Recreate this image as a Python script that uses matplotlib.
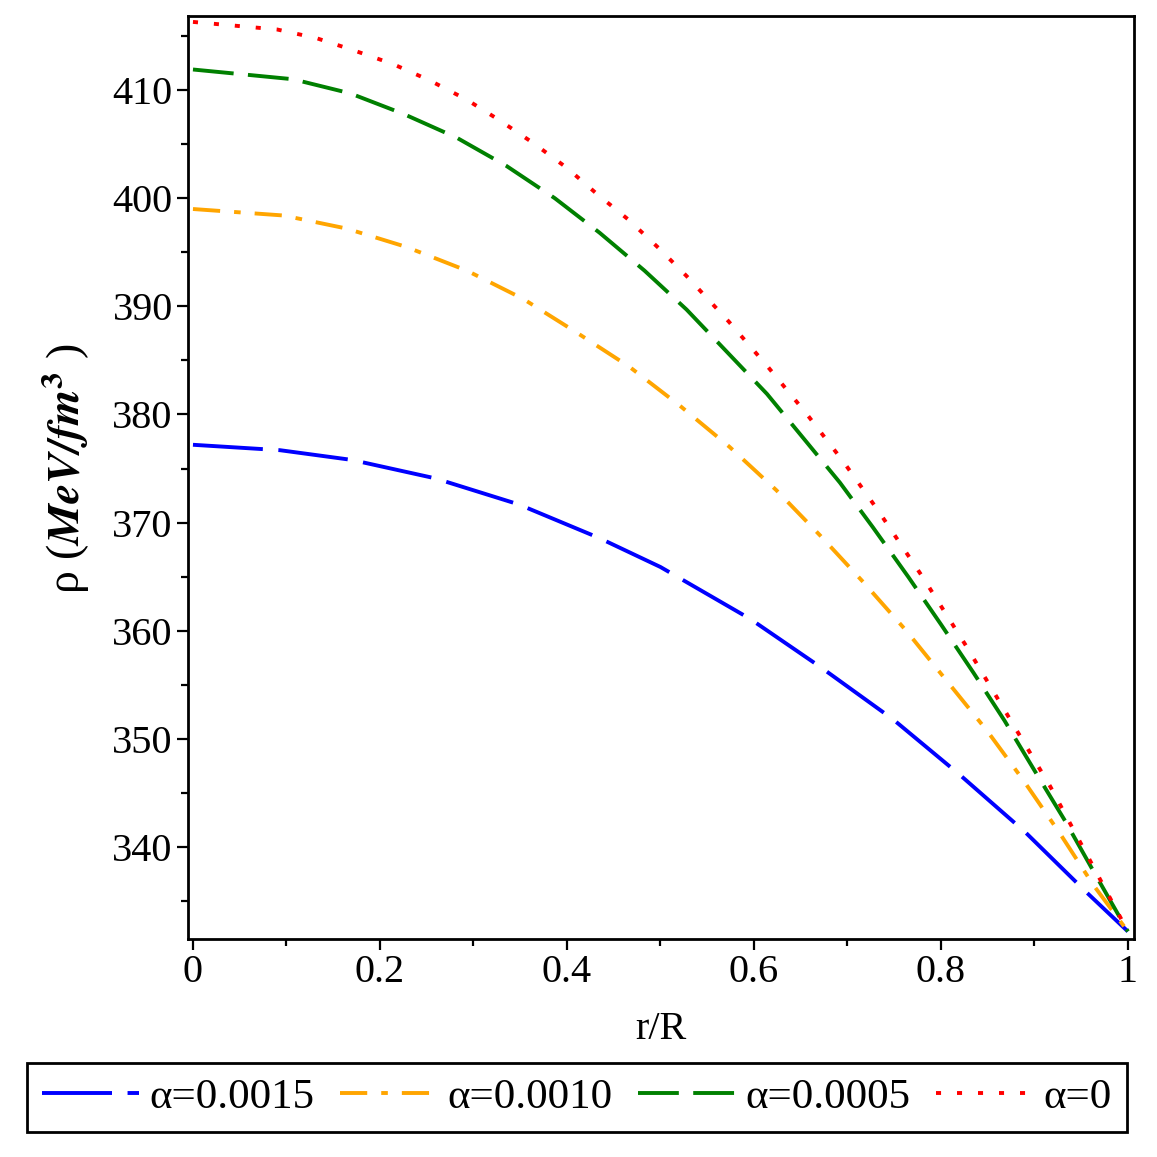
import matplotlib
import matplotlib.pyplot as plt
import numpy as np

matplotlib.use('Agg')

plt.rcParams['font.family'] = ['Liberation Serif', 'DejaVu Serif']
plt.rcParams['mathtext.fontset'] = 'stix'

# values (r/R, rho)
rBlue = [0.0, 0.093, 0.170, 0.259, 0.348, 0.434, 0.50, 0.596, 0.672, 0.749, 0.820, 0.890, 0.956, 1.0]
rhoBlue = [377.2, 376.7, 375.8, 374.1, 371.7, 368.6, 365.9, 361.1, 356.6, 351.8, 346.7, 341.4, 335.8, 332.2]

rOrange = [0.0, 0.097, 0.164, 0.228, 0.293, 0.353, 0.410, 0.467, 0.521, 0.574, 0.624, 0.671, 0.717, 0.763, 0.806, 0.849, 0.888, 0.927, 0.963, 1.0]
rhoOrange = [399.0, 398.4, 397.2, 395.5, 393.3, 390.7, 387.6, 384.4, 380.8, 377.0, 373.0, 368.8, 364.5, 360.0, 355.4, 350.8, 346.2, 341.3, 336.5, 332.2]

rGreen = [0.0, 0.107, 0.168, 0.225, 0.282, 0.335, 0.387, 0.435, 0.483, 0.528, 0.571, 0.614, 0.653, 0.692, 0.727, 0.765, 0.800, 0.835, 0.868, 0.900, 0.933, 0.963, 1.0]
rhoGreen = [411.9, 411.0, 409.7, 407.8, 405.6, 403.0, 400.0, 396.8, 393.3, 389.7, 385.8, 381.9, 377.8, 373.7, 369.6, 365.0, 360.6, 356.1, 351.7, 347.1, 342.4, 337.8, 332.2]

rRed = [0.0, 0.090, 0.132, 0.171, 0.214, 0.253, 0.293, 0.328, 0.364, 0.400, 0.432, 0.466, 0.498, 0.528, 0.573, 0.615, 0.656, 0.696, 0.733, 0.781, 0.827, 0.872, 0.917, 0.958, 1.0]
rhoRed = [416.3, 415.6, 414.8, 413.7, 412.4, 410.9, 409.1, 407.2, 405.1, 402.8, 400.4, 398.0, 395.4, 392.8, 388.6, 384.4, 380.1, 375.6, 371.1, 364.9, 358.6, 352.1, 345.6, 339.0, 332.2]

labels = ["α=0.0015", "α=0.0010", "α=0.0005", "α=0"]

fig = plt.figure(figsize=(11.57, 11.57), dpi=100)
ax = fig.add_axes([0.1625, 0.1884, 0.8175, 0.7978])

lw = 2.8
ax.plot(rBlue, rhoBlue, color="#0000FF", lw=lw, linestyle=(0, (18, 4)),
        dash_capstyle="butt", label=labels[0])
ax.plot(rOrange, rhoOrange, color="#FFA500", lw=lw, linestyle=(0, (7, 3.6, 1.7, 3.6)),
        dash_capstyle="butt", label=labels[1])
ax.plot(rGreen, rhoGreen, color="#008000", lw=lw, linestyle=(0, (10.5, 3.7)),
        dash_capstyle="butt", label=labels[2])
ax.plot(rRed, rhoRed, color="#FF0000", lw=lw, linestyle=(0, (1.3, 4.1)),
        dash_capstyle="butt", label=labels[3])

ax.set_xlim(-0.0053, 1.0064)
ax.set_ylim(331.5, 416.85)

ax.set_xticks([0, 0.2, 0.4, 0.6, 0.8, 1.0])
ax.set_xticklabels(["0", "0.2", "0.4", "0.6", "0.8", "1"])
ax.set_xticks(np.arange(0.1, 1.0, 0.2), minor=True)
ax.set_yticks(np.arange(340, 411, 10))
ax.set_yticks(np.arange(335, 416, 10), minor=True)

ax.tick_params(which="major", direction="out", length=8, width=1.6, labelsize=29, pad=3)
ax.tick_params(which="minor", direction="out", length=5, width=1.6)
for s in ax.spines.values():
    s.set_linewidth(2)

ax.set_xlabel("r/R", fontsize=29, labelpad=14)
ax.set_ylabel(r"ρ ($\mathbfit{MeV/fm}^{\mathbf{3}}$ )", fontsize=33)
ax.yaxis.set_label_coords(-0.101, 0.51)

leg = fig.legend(loc="center", bbox_to_anchor=(0.0233, 0.0216, 0.9507, 0.0596),
                 mode="expand", ncol=4, fontsize=31, handlelength=2.25,
                 handletextpad=0.25, columnspacing=0.5, borderaxespad=0,
                 fancybox=False, frameon=True, framealpha=1, borderpad=0.35)
leg.get_frame().set_edgecolor("black")
leg.get_frame().set_linewidth(2)

plt.savefig("out.png", dpi=100)
plt.close()
